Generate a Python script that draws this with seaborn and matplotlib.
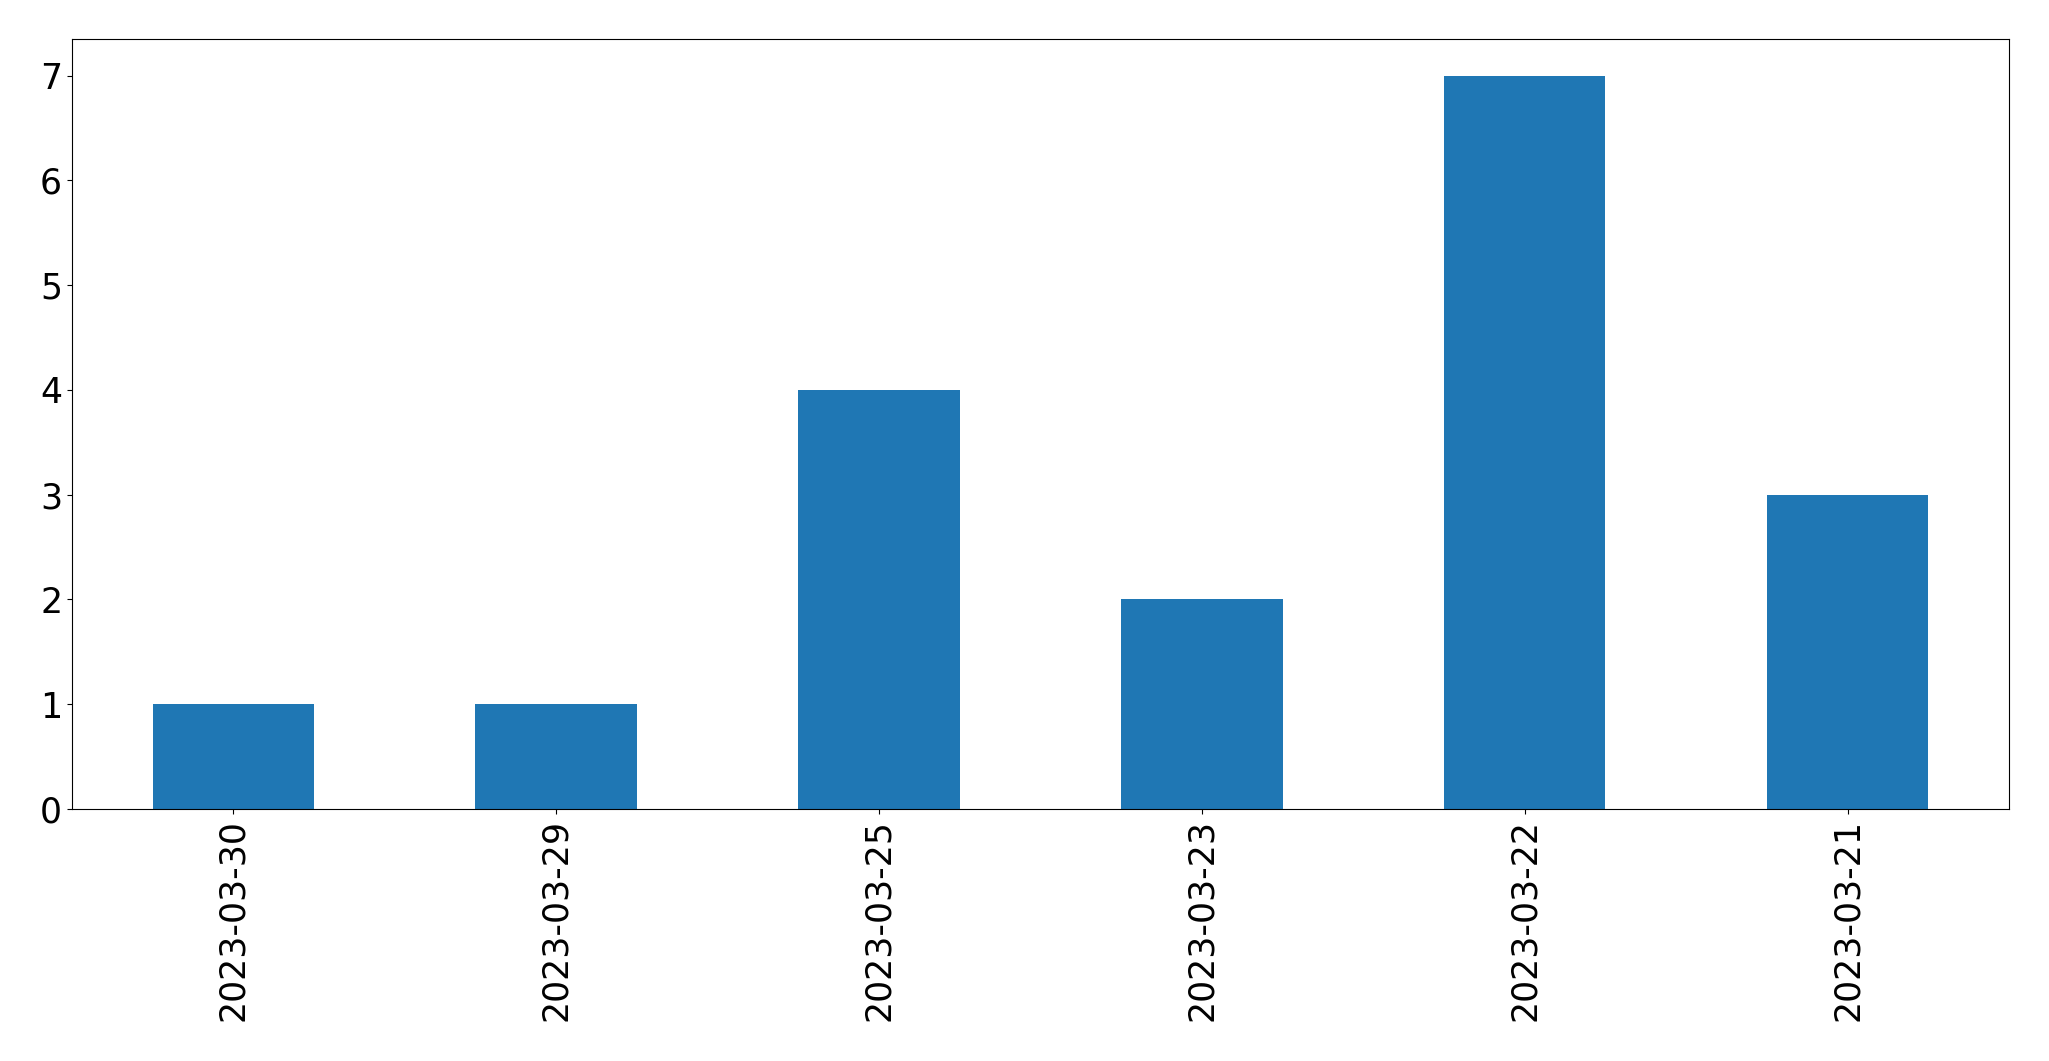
import pandas as pd
import matplotlib
matplotlib.use("Agg")
import matplotlib.pyplot as plt
import seaborn as sns

dates = ["2023-03-30", "2023-03-29", "2023-03-25", "2023-03-23", "2023-03-22", "2023-03-21"]
counts = [1, 1, 4, 2, 7, 3]

df = pd.DataFrame({"date": dates, "count": counts})

fig, ax = plt.subplots(figsize=(20.49, 10.61), dpi=100)
sns.barplot(x="date", y="count", data=df, order=dates, color="#1f77b4",
            saturation=1, width=0.5, ax=ax)

ax.set_xlim(-0.5, len(dates) - 0.5)
ax.set_ylim(0, 7.35)
ax.set_xlabel("")
ax.set_ylabel("")
ax.tick_params(axis="both", labelsize=25)
ax.tick_params(axis="x", labelrotation=90)

plt.subplots_adjust(left=0.0351, right=0.9805, top=0.9632, bottom=0.2375)
plt.savefig("out.png", dpi=100)
